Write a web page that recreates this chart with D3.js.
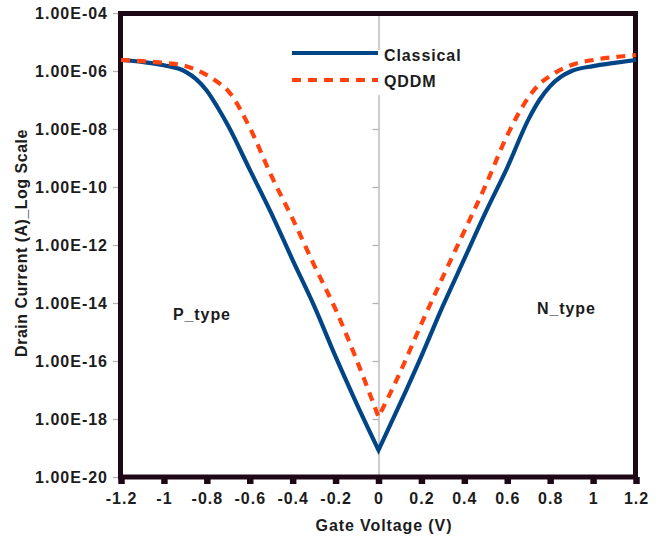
<!DOCTYPE html>
<html>
<head>
<meta charset="utf-8">
<script src="https://cdn.jsdelivr.net/npm/d3@7"></script>
<style>
  html, body { margin: 0; padding: 0; background: #fff; }
  svg text { font-family: "Liberation Sans", Arial, sans-serif; font-weight: bold; fill: #1c1c1c; }
</style>
</head>
<body>
<svg id="chart" width="669" height="540"></svg>
<script>
// Gate voltage sweep (V)
const gateVoltage = [-1.2, -1.1, -1.0, -0.9, -0.85, -0.8, -0.75, -0.7, -0.6, -0.5, -0.4, -0.3, -0.2, -0.1, 0,
                     0.1, 0.2, 0.3, 0.4, 0.5, 0.6, 0.7, 0.75, 0.8, 0.85, 0.9, 1.0, 1.1, 1.2];
// Drain current (A), classical drift-diffusion
const classical = [2.4e-6, 2.04e-6, 1.58e-6, 9.55e-7, 5.25e-7, 2.09e-7, 5.62e-8, 1.26e-8, 3.98e-10, 1.26e-11, 3.02e-13, 7.94e-15, 1.41e-16, 3.16e-18, 8.5e-20,
                   3.3e-18, 1.48e-16, 7.94e-15, 3.31e-13, 1.38e-11, 4.68e-10, 2.24e-8, 1.0e-7, 3.02e-7, 6.31e-7, 1.0e-6, 1.48e-6, 1.91e-6, 2.4e-6];
// Drain current (A), quantum drift-diffusion model
const qddm = [2.4e-6, 2.19e-6, 1.91e-6, 1.48e-6, 1.1e-6, 7.24e-7, 4.17e-7, 2.04e-7, 1.12e-8, 2.51e-10, 7.94e-12, 2.04e-13, 6.03e-15, 1.0e-16, 1.17e-18,
              3.98e-17, 1.91e-15, 7.94e-14, 3.02e-12, 1.17e-10, 6.03e-9, 1.26e-7, 3.55e-7, 6.76e-7, 1.12e-6, 1.62e-6, 2.4e-6, 3.02e-6, 3.55e-6];

const xTicks = [-1.2, -1.0, -0.8, -0.6, -0.4, -0.2, 0, 0.2, 0.4, 0.6, 0.8, 1.0, 1.2];
const xTickLabels = ["-1.2", "-1", "-0.8", "-0.6", "-0.4", "-0.2", "0", "0.2", "0.4", "0.6", "0.8", "1", "1.2"];
const yTicks = [1e-20, 1e-18, 1e-16, 1e-14, 1e-12, 1e-10, 1e-8, 1e-6, 1e-4];
const yTickLabels = ["1.00E-20", "1.00E-18", "1.00E-16", "1.00E-14", "1.00E-12", "1.00E-10", "1.00E-08", "1.00E-06", "1.00E-04"];

const seriesNames = ["Classical", "QDDM"];
const seriesColors = ["#004586", "#ff420e"];

const svg = d3.select("#chart");
const frameColor = "#1f0816";
const gray = "#b3b3b3";

const x = d3.scaleLinear().domain([-1.2, 1.2]).range([121, 636]);
const y = d3.scaleLog().domain([1e-20, 1e-4]).range([477, 13]);

// Zero-voltage reference axis with decade ticks
const zeroAxis = svg.append("g")
  .attr("transform", `translate(${x(0)},0)`)
  .call(d3.axisLeft(y).tickValues(yTicks).tickSize(6).tickSizeOuter(0).tickFormat(""));
zeroAxis.select(".domain").attr("stroke", gray).attr("stroke-width", 1.3);
zeroAxis.selectAll(".tick line").attr("stroke", gray).attr("stroke-width", 1.3);

// Legend background hides the reference axis behind it
svg.append("rect").attr("x", 288).attr("y", 50).attr("width", 175).attr("height", 45).attr("fill", "#fff");

// Y axis
const yAxis = svg.append("g")
  .attr("transform", "translate(118,0)")
  .call(d3.axisLeft(y).tickValues(yTicks).tickSize(5).tickPadding(5)
    .tickFormat((d, i) => yTickLabels[i]));
yAxis.select(".domain").remove();
yAxis.selectAll(".tick line").attr("stroke", gray).attr("stroke-width", 1.3);
yAxis.selectAll(".tick text")
  .style("font-family", "'Liberation Sans', Arial, sans-serif")
  .style("font-weight", "bold").style("font-size", "16px").style("letter-spacing", "1px")
  .attr("fill", "#1c1c1c").attr("dy", "0.36em");

// X axis
const xAxis = svg.append("g")
  .attr("transform", "translate(0,477)")
  .call(d3.axisBottom(x).tickValues(xTicks).tickSize(7).tickSizeOuter(0).tickPadding(9)
    .tickFormat((d, i) => xTickLabels[i]));
xAxis.select(".domain").remove();
xAxis.selectAll(".tick line").attr("stroke", frameColor).attr("stroke-width", 6.5);
xAxis.selectAll(".tick text")
  .style("font-family", "'Liberation Sans', Arial, sans-serif")
  .style("font-weight", "bold").style("font-size", "16px").style("letter-spacing", "1px")
  .attr("fill", "#1c1c1c");

// Plot frame
svg.append("rect")
  .attr("x", x.range()[0] - 0.5).attr("y", 13.5)
  .attr("width", x.range()[1] - x.range()[0]).attr("height", 477 - 13.5)
  .attr("fill", "none").attr("stroke", frameColor).attr("stroke-width", 5);

// Curves: each branch is smoothed separately so the minimum at 0 V stays a sharp corner
const line = d3.line()
  .x(d => x(d[0]))
  .y(d => y(d[1]))
  .curve(d3.curveMonotoneX);

function vShapedPath(values) {
  const pts = gateVoltage.map((v, i) => [v, values[i]]);
  const left = pts.filter(p => p[0] <= 0);
  const right = pts.filter(p => p[0] >= 0);
  return line(left) + line(right).replace(/^M/, "L");
}

svg.append("path")
  .attr("d", vShapedPath(classical)).attr("fill", "none")
  .attr("stroke", seriesColors[0]).attr("stroke-width", 4.2)
  .attr("stroke-linejoin", "miter").attr("stroke-miterlimit", 10);

svg.append("path")
  .attr("d", vShapedPath(qddm)).attr("fill", "none")
  .attr("stroke", seriesColors[1]).attr("stroke-width", 4.2)
  .attr("stroke-linejoin", "miter").attr("stroke-miterlimit", 10)
  .attr("stroke-dasharray", "9,7");

// Legend
const legendRows = [
  { y: 53, dash: null, text: seriesNames[0], color: seriesColors[0], ty: 61 },
  { y: 80, dash: "9,7", text: seriesNames[1], color: seriesColors[1], ty: 87 }
];
legendRows.forEach(r => {
  svg.append("line").attr("x1", 292).attr("x2", 378).attr("y1", r.y).attr("y2", r.y)
    .attr("stroke", r.color).attr("stroke-width", 4.2)
    .attr("stroke-dasharray", r.dash);
  svg.append("text").attr("x", 384).attr("y", r.ty)
    .style("font-size", "16px").style("letter-spacing", "0.9px").text(r.text);
});

// Region annotations
svg.append("text").attr("x", 173).attr("y", 320)
  .style("font-size", "16px").style("letter-spacing", "0.9px").text("P_type");
svg.append("text").attr("x", 537).attr("y", 314)
  .style("font-size", "16px").style("letter-spacing", "0.9px").text("N_type");

// Axis titles
svg.append("text").attr("x", 384).attr("y", 531).attr("text-anchor", "middle")
  .style("font-size", "16px").style("letter-spacing", "0.9px").text("Gate Voltage (V)");
svg.append("text").attr("transform", "translate(27,243) rotate(-90)").attr("text-anchor", "middle")
  .style("font-size", "16px").style("letter-spacing", "0.5px").text("Drain Current (A)_Log Scale");
</script>
</body>
</html>
